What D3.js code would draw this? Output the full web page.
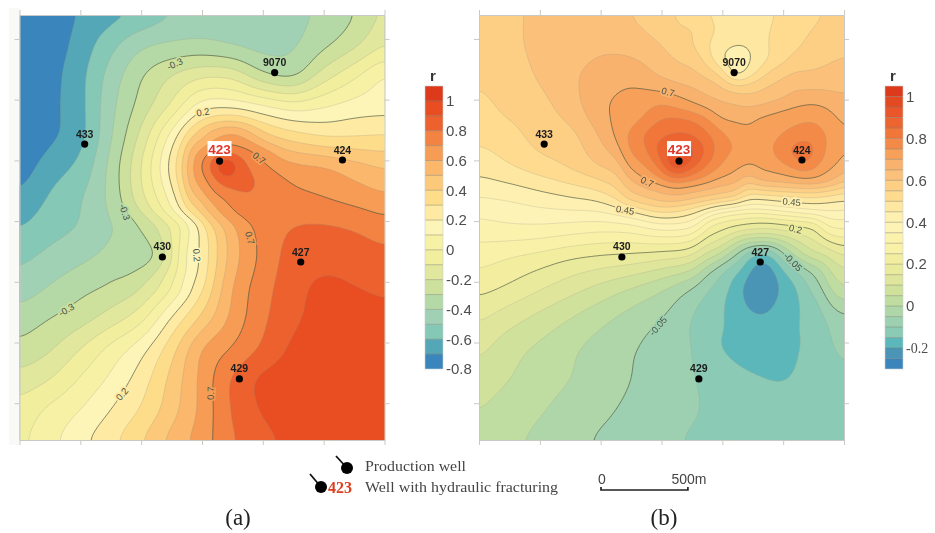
<!DOCTYPE html>
<html><head><meta charset="utf-8">
<script src="https://cdn.jsdelivr.net/npm/d3@7"></script>
<style>
html,body{margin:0;padding:0;background:#fff;overflow:hidden}
svg{display:block;filter:blur(0.35px)}
</style></head><body>
<svg id="c" width="935" height="533"></svg>
<script>
// correlation surfaces: rows top to bottom, columns left to right, every 175 m
const surfaceA = [
[-.85,-.77,-.69,-.63,-.57,-.5,-.46,-.44,-.43,-.42,-.38,-.3,-.18],
[-.85,-.76,-.66,-.53,-.42,-.38,-.37,-.4,-.43,-.41,-.32,-.22,-.1],
[-.83,-.74,-.63,-.46,-.31,-.2,-.12,-.13,-.27,-.31,-.15,-.02,.1],
[-.82,-.73,-.63,-.43,-.26,-.08,.15,.17,.11,.05,.09,.14,.16],
[-.8,-.72,-.63,-.41,-.17,.14,.47,.62,.43,.35,.3,.3,.31],
[-.75,-.65,-.57,-.37,-.1,.24,.66,.89,.72,.63,.6,.54,.49],
[-.68,-.59,-.51,-.37,-.13,.15,.58,.77,.78,.73,.7,.66,.62],
[-.6,-.54,-.49,-.4,-.27,0,.28,.58,.74,.8,.81,.79,.75],
[-.52,-.47,-.42,-.37,-.33,-.15,.23,.55,.73,.84,.86,.85,.83],
[-.45,-.39,-.33,-.28,-.2,0,.29,.6,.76,.86,.925,.905,.88],
[-.35,-.3,-.24,-.15,-.03,.21,.43,.63,.78,.88,.94,.95,.94],
[-.27,-.21,-.1,.03,.16,.36,.6,.71,.82,.92,.96,.96,.96],
[-.16,-.1,.01,.12,.25,.43,.63,.81,.92,.95,.96,.96,.96],
[-.06,.02,.1,.2,.31,.46,.63,.81,.91,.95,.95,.95,.95],
[-.02,.07,.17,.27,.39,.53,.65,.79,.87,.93,.95,.96,.96]];
const surfaceB = [
[.57,.59,.61,.62,.62,.6,.565,.525,.485,.48,.51,.54,.57],
[.57,.59,.61,.625,.64,.63,.6,.55,.48,.46,.515,.57,.59],
[.56,.58,.605,.64,.67,.685,.645,.61,.53,.49,.6,.61,.62],
[.535,.565,.585,.625,.69,.72,.75,.71,.655,.65,.68,.705,.67],
[.51,.53,.57,.585,.655,.755,.84,.86,.75,.71,.76,.79,.695],
[.47,.495,.525,.555,.6,.655,.87,.93,.77,.68,.7,.76,.66],
[.4,.41,.43,.45,.475,.55,.635,.59,.5,.47,.49,.5,.47],
[.33,.34,.34,.33,.32,.33,.37,.35,.22,.15,.2,.28,.31],
[.27,.25,.23,.205,.19,.18,.16,.13,-.01,-.16,-.07,.04,.14],
[.215,.19,.155,.12,.085,.05,.01,-.05,-.125,-.235,-.19,-.075,.05],
[.155,.12,.085,.05,.015,-.02,-.05,-.1,-.16,-.195,-.185,-.125,-.06],
[.11,.07,.04,.01,-.02,-.045,-.07,-.1,-.15,-.18,-.17,-.13,-.09],
[.08,.05,.025,0,-.025,-.05,-.075,-.097,-.12,-.143,-.152,-.13,-.11],
[.05,.025,.005,-.02,-.04,-.06,-.08,-.095,-.115,-.125,-.13,-.125,-.12],
[.035,.01,-.01,-.035,-.055,-.07,-.085,-.105,-.115,-.12,-.125,-.125,-.125]];

// finer readings around the wells, every 86 m: start x, start y (metres), then rows
const detailA423 = {x:1010,y:692,rows:[
[.4,.53,.61,.6,.49,.38],
[.58,.68,.76,.735,.69,.6],
[.63,.82,1.02,.86,.75,.69],
[.61,.73,.87,.84,.81,.73],
[.5,.66,.73,.79,.79,.74],
[.37,.53,.66,.73,.76,.75]]};
const detailA430 = {x:578,y:1211,rows:[
[-.4,-.31,-.24,-.14,-.02,.16],
[-.39,-.35,-.29,-.17,0,.17],
[-.37,-.35,-.33,-.22,.03,.18],
[-.34,-.31,-.26,-.13,.03,.18],
[-.27,-.23,-.16,-.06,.08,.22]]};
const detailB9070 = {x:1214,y:86,rows:[
[.56,.53,.49,.48,.48,.49,.52],
[.56,.51,.47,.45,.455,.49,.53],
[.59,.54,.46,.42,.445,.49,.53],
[.62,.59,.55,.43,.48,.55,.59],
[.66,.64,.62,.6,.6,.61,.62]]};
const detailB427 = {x:1329,y:1211,rows:[
[.25,.22,.21,.195,.19,.2,.205,.21],
[.17,.13,.05,.02,.02,.06,.11,.15],
[.08,.01,-.08,-.16,-.16,-.05,.03,.09],
[-.04,-.105,-.145,-.22,-.22,-.14,-.085,-.03],
[-.095,-.13,-.19,-.235,-.23,-.18,-.135,-.07],
[-.11,-.15,-.19,-.225,-.215,-.18,-.15,-.105],
[-.115,-.155,-.175,-.2,-.195,-.17,-.152,-.12],
[-.115,-.155,-.165,-.175,-.175,-.165,-.15,-.12]]};
const detailB423 = {x:869,y:519,rows:[
[.72,.735,.75,.735,.71,.685,.665,.655],
[.73,.76,.805,.815,.805,.77,.705,.695],
[.755,.81,.835,.855,.85,.815,.77,.73],
[.76,.79,.875,.925,.925,.85,.775,.75],
[.72,.755,.82,.96,.89,.81,.755,.71],
[.65,.7,.735,.78,.76,.73,.69,.68],
[.59,.61,.63,.65,.635,.615,.6,.58]]};
const detailB424 = {x:1617,y:605,rows:[
[.71,.72,.735,.745,.74,.705],
[.725,.74,.765,.78,.77,.72],
[.73,.755,.805,.835,.775,.715],
[.715,.73,.76,.8,.745,.705],
[.67,.675,.685,.695,.69,.655]]};

const wellNames = ["9070","433","423","424","430","427","429"];
const wellX = [1468,375,1151,1858,822,1618,1265];
const wellY = [332,744,842,836,1395,1424,2098];

const bandsA = ["#3a85bb","#54a7b6","#86c8b6","#a0d1b4","#b4d9a7","#cde19d","#e1e79c","#f1ee9e","#f7f1a6","#fdf4b8",
 "#feeaa3","#fedd8a","#fcc97b","#fbb76c","#f69c54","#f28343","#ec612e","#e84e22","#dd3a1c"];
const bandsB = ["#3a85bb","#4a94b6","#5cb7ba","#8bcab4","#9cd0b0","#aed6a8","#bfdca1","#cfe19b","#dfe69b","#e9ea9c",
 "#f3ee9f","#f8f1a7","#fbf2ae","#fdf3b6","#fef0b0","#fee7a0","#fedb8e","#fdcf85","#fbc17a","#f9b26d","#f6a05a",
 "#f48a48","#f0763a","#ec6530","#e8562a","#e44a22","#dd3a1c"];
const levelMinA = -0.8, levelStepA = 0.1;
const levelMinB = -0.3, levelStepB = 0.05;

const ticksA = [-0.8,-0.6,-0.4,-0.2,0,0.2,0.4,0.6,0.8,1];
const ticksB = [-0.2,0,0.2,0.4,0.6,0.8,1];

const labelTextA = ["-0.3","-0.3","-0.3","0.2","0.2","0.2","0.7","0.7","0.7"];
const labelXA = [893,605,270,1055,1020,590,1378,1326,1100];
const labelYA = [282,1135,1700,560,1385,2185,825,1285,2180];
const labelAngleA = [-25,72,-30,-10,85,-50,40,75,-88];
const labelTextB = ["0.7","0.7","0.45","0.45","0.2","-0.05","-0.05"];
const labelXB = [1088,968,841,1799,1821,1806,1030];
const labelYB = [444,962,1124,1078,1234,1424,1793];
const labelAngleB = [15,25,10,5,15,45,-50];

const mapW = 2100, mapH = 2450, tickStep = 350, yTickStart = 138;
const upFactor = 10, detailStepX = 86.3, detailStepY = 86.47, feather = 70, blurRadius = 1.3;

const cr=(a,b,c,d,t)=>0.5*(2*b+(c-a)*t+(2*a-5*b+4*c-d)*t*t+(3*b-a-3*c+d)*t*t*t);
function sample(grid,fc,fr){
  const R=grid.length,C=grid[0].length;
  const g=(r,c)=>grid[Math.max(0,Math.min(R-1,r))][Math.max(0,Math.min(C-1,c))];
  fc=Math.max(0,Math.min(C-1,fc));fr=Math.max(0,Math.min(R-1,fr));
  const c=Math.min(C-2,Math.floor(fc)),r=Math.min(R-2,Math.floor(fr)),u=fc-c,v=fr-r,col=[];
  for(let k=-1;k<3;k++)col.push(cr(g(r+k,c-1),g(r+k,c),g(r+k,c+1),g(r+k,c+2),u));
  return cr(col[0],col[1],col[2],col[3],v);
}
function buildSurface(grid,details){
  const R=grid.length,C=grid[0].length,W=(C-1)*upFactor+1,H=(R-1)*upFactor+1,out=new Float64Array(W*H);
  const cu=mapW/(W-1),cv=mapH/(H-1);
  const ss=t=>{t=Math.max(0,Math.min(1,t));return t*t*(3-2*t);};
  for(let j=0;j<H;j++)for(let i=0;i<W;i++){
    let v=sample(grid,i/upFactor,j/upFactor);const mx=i*cu,my=j*cv;
    details.forEach(d=>{
      const fc=(mx-d.x)/detailStepX,fr=(my-d.y)/detailStepY,nc=d.rows[0].length-1,nr=d.rows.length-1;
      const ox=Math.max(-fc,fc-nc,0)*detailStepX,oy=Math.max(-fr,fr-nr,0)*detailStepY;
      const w=1-ss(Math.hypot(ox,oy)/feather);
      if(w>0)v=v*(1-w)+sample(d.rows,fc,fr)*w;
    });
    out[j*W+i]=v;
  }
  d3.blur2({data:out,width:W,height:H},blurRadius);
  return {values:out,W,H};
}
const svg=d3.select("#c");
const defs=svg.append("defs");
const sans='"Liberation Sans",Arial,sans-serif', serif='"Liberation Serif","Times New Roman",serif';
svg.append("rect").attr("x",9).attr("y",8).attr("width",11).attr("height",437).attr("fill","#f9f9f7");

function panel(id,px,grid,details,bands,lmin,lstep,isMajor,barX,barDomain,ticks,lt,lx,ly,la){
  const x=d3.scaleLinear().domain([0,mapW]).range([px,px+365]);
  const y=d3.scaleLinear().domain([0,mapH]).range([15,440]);
  const up=buildSurface(grid,details);
  const cu=mapW/(up.W-1), cv=mapH/(up.H-1);
  const proj=d3.geoTransform({point(a,b){this.stream.point(x((a-.5)*cu),y((b-.5)*cv));}});
  const path=d3.geoPath(proj);
  const clip=id+"clip";
  defs.append("clipPath").attr("id",clip).append("rect").attr("x",x(0)).attr("y",y(0)).attr("width",365).attr("height",425);
  const g=svg.append("g").attr("clip-path",`url(#${clip})`);
  g.append("rect").attr("x",x(0)).attr("y",y(0)).attr("width",365).attr("height",425).attr("fill",bands[0]);
  const levels=d3.range(1,bands.length).map(i=>+(lmin+i*lstep).toFixed(3));
  const cs=d3.contours().size([up.W,up.H]).thresholds(levels)(up.values);
  g.selectAll("path.f").data(cs).join("path").attr("class","f").attr("d",path)
    .attr("fill",(d,i)=>bands[i+1]).attr("stroke",(d,i)=>bands[i+1]).attr("stroke-width",.3);
  g.selectAll("path.l").data(cs).join("path").attr("class","l").attr("d",path).attr("fill","none")
    .attr("stroke",d=>isMajor(d.value)?"#4d5a45":"#9a9a8c")
    .attr("stroke-opacity",d=>isMajor(d.value)?.75:.35)
    .attr("stroke-width",d=>isMajor(d.value)?.9:.7);
  // contour labels
  const bandAt=(mx,my)=>{const i=Math.round(mx/cu),j=Math.round(my/cv),v=up.values[j*up.W+i];
    return bands[Math.max(0,Math.min(bands.length-1,Math.floor((v-lmin)/lstep)))];};
  svg.append("g").selectAll("text").data(lt).join("text").text(d=>d)
    .attr("transform",(d,i)=>`translate(${x(lx[i])},${y(ly[i])}) rotate(${la[i]})`)
    .attr("text-anchor","middle").attr("dy","0.35em")
    .style("font",`9.5px ${sans}`).attr("fill","#4a5048")
    .attr("stroke",(d,i)=>bandAt(lx[i],ly[i])).attr("stroke-width",3.5).attr("paint-order","stroke");
  // frame and ticks
  const xt=d3.range(0,mapW+1,tickStep), yt=d3.range(yTickStart,mapH,tickStep);
  const ax=svg.append("g").attr("class","ax");
  ax.append("g").attr("transform",`translate(0,${y(0)})`).call(d3.axisTop(x).tickValues(xt).tickSizeInner(5).tickSizeOuter(0).tickFormat(""));
  ax.append("g").attr("transform",`translate(0,${y(mapH)})`).call(d3.axisBottom(x).tickValues(xt).tickSizeInner(5).tickSizeOuter(0).tickFormat(""));
  ax.append("g").attr("transform",`translate(${x(0)},0)`).call(d3.axisLeft(y).tickValues(yt).tickSizeInner(5).tickSizeOuter(0).tickFormat(""));
  ax.append("g").attr("transform",`translate(${x(mapW)},0)`).call(d3.axisRight(y).tickValues(yt).tickSizeInner(5).tickSizeOuter(0).tickFormat(""));
  ax.selectAll("path,line").attr("stroke","#c8c8c4").attr("stroke-width",1);
  // wells
  const w=svg.append("g");
  w.selectAll("circle").data(wellNames).join("circle").attr("cx",(d,i)=>x(wellX[i])).attr("cy",(d,i)=>y(wellY[i])).attr("r",3.6).attr("fill","#000");
  const hl=wellNames.indexOf("423");
  w.append("rect").attr("x",x(wellX[hl])-12).attr("y",y(wellY[hl])-20).attr("width",24).attr("height",15).attr("fill","#fff");
  w.selectAll("text").data(wellNames).join("text").text(d=>d)
    .attr("x",(d,i)=>x(wellX[i])).attr("y",(d,i)=>y(wellY[i])-(d==="423"?7:6.5))
    .attr("text-anchor","middle")
    .attr("fill",d=>d==="423"?"#e2352a":"#1c1c1c")
    .style("font",d=>d==="423"?`bold 13.5px ${sans}`:`bold 10.5px ${sans}`);
  // colour bar
  const by=d3.scaleLinear().domain(barDomain).range([369,86]);
  const b=svg.append("g");
  b.selectAll("rect").data(bands).join("rect").attr("x",barX).attr("width",18)
    .attr("y",(d,i)=>by(lmin+(i+1)*lstep)).attr("height",(d,i)=>by(lmin+i*lstep)-by(lmin+(i+1)*lstep)).attr("fill",d=>d);
  b.selectAll("line").data(levels).join("line").attr("x1",barX).attr("x2",barX+18)
    .attr("y1",d=>by(d)).attr("y2",d=>by(d)).attr("stroke","#6b6b60").attr("stroke-opacity",.5).attr("stroke-width",.8);
  b.append("rect").attr("x",barX).attr("y",86).attr("width",18).attr("height",283).attr("fill","none").attr("stroke","#c9cfd2").attr("stroke-width",.6);
  const tk=svg.append("g").attr("transform",`translate(${barX+18},0)`)
    .call(d3.axisRight(by).tickValues(ticks).tickSize(0).tickPadding(3).tickFormat(d=>d));
  tk.select(".domain").remove();
  tk.selectAll("text").attr("fill","#4e4e4e").style("font",d=>(id==="b"&&d<0)?`14px ${serif}`:`15px ${sans}`);
  svg.append("text").text("r").attr("x",barX+8).attr("y",81).attr("text-anchor","middle").attr("fill","#333").style("font",`bold 15px ${sans}`);
  return {x,y};
}
const A=panel("a",19.5,surfaceA,[detailA423,detailA430],bandsA,levelMinA,levelStepA,v=>Math.abs(((v+0.3)/0.5)-Math.round((v+0.3)/0.5))<.01,425,[-0.8,1.1],ticksA,labelTextA,labelXA,labelYA,labelAngleA);
const B=panel("b",479,surfaceB,[detailB9070,detailB427,detailB423,detailB424],bandsB,levelMinB,levelStepB,v=>Math.abs(((v+0.05)/0.25)-Math.round((v+0.05)/0.25))<.01,885,[-0.3,1.05],ticksB,labelTextB,labelXB,labelYB,labelAngleB);

// legend
const lg=svg.append("g");
const wellSym=[[347,468,11,12],[321,487,11,13]];
wellSym.forEach(s=>{
  lg.append("line").attr("x1",s[0]).attr("y1",s[1]).attr("x2",s[0]-s[2]).attr("y2",s[1]-s[3]).attr("stroke","#111").attr("stroke-width",1.8);
  lg.append("circle").attr("cx",s[0]).attr("cy",s[1]).attr("r",6).attr("fill","#000");
});
lg.append("text").text("423").attr("x",328).attr("y",493).attr("fill","#d9401f").style("font",`bold 16px ${serif}`);
lg.append("text").text("Production well").attr("x",365).attr("y",471).attr("textLength",101).attr("lengthAdjust","spacingAndGlyphs").attr("fill","#444").style("font",`14.5px ${serif}`);
lg.append("text").text("Well with hydraulic fracturing").attr("x",365).attr("y",492).attr("textLength",193).attr("lengthAdjust","spacingAndGlyphs").attr("fill","#444").style("font",`14.5px ${serif}`);
// scale bar, 500 m on the map scale
const bar0=601, barLen=B.x(500)-B.x(0);
lg.append("path").attr("d",`M${bar0},487V490H${bar0+barLen}V487`).attr("fill","none").attr("stroke","#222").attr("stroke-width",1.7);
lg.append("text").text("0").attr("x",bar0+1).attr("y",484).attr("text-anchor","middle").attr("fill","#444").style("font",`14px ${sans}`);
lg.append("text").text("500m").attr("x",bar0+88).attr("y",484).attr("text-anchor","middle").attr("fill","#444").style("font",`14px ${sans}`);
lg.append("text").text("(a)").attr("x",238).attr("y",525).attr("text-anchor","middle").attr("fill","#222").style("font",`23px ${serif}`);
lg.append("text").text("(b)").attr("x",664).attr("y",525).attr("text-anchor","middle").attr("fill","#222").style("font",`23px ${serif}`);
</script></body></html>
